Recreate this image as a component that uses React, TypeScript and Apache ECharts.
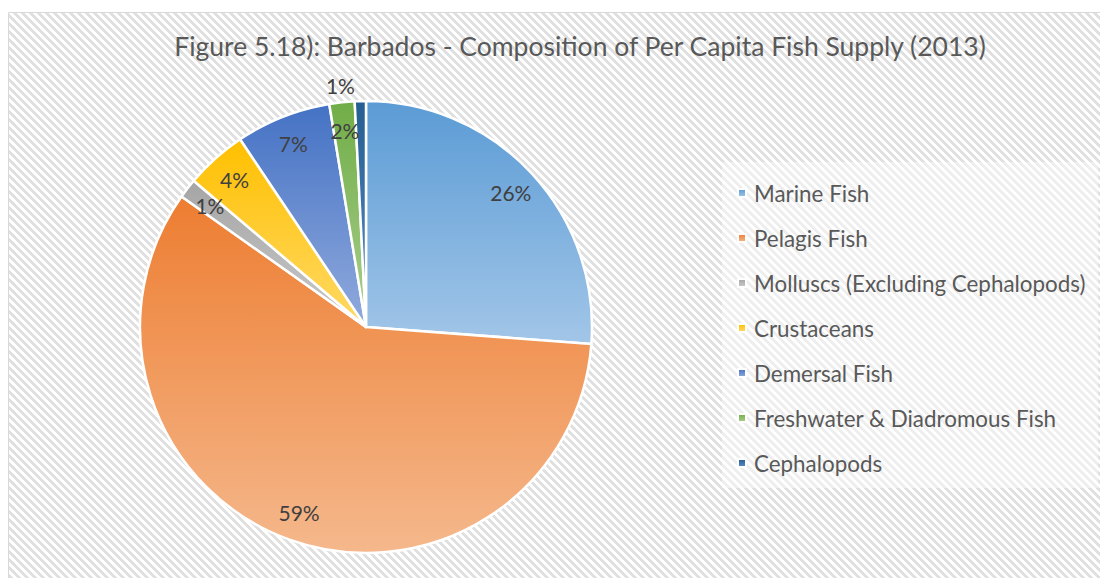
import React, { useEffect, useRef } from 'react';
import * as echarts from 'echarts';

const titleText = 'Figure 5.18): Barbados - Composition of Per Capita Fish Supply (2013)';
const categories = [
  'Marine Fish',
  'Pelagis Fish',
  'Molluscs (Excluding Cephalopods)',
  'Crustaceans',
  'Demersal Fish',
  'Freshwater & Diadromous Fish',
  'Cephalopods',
];
const shares = [26.2, 58.6, 1.4, 4.4, 6.8, 1.8, 0.8];
const topColors = ['#5B9BD5', '#ED7D31', '#A5A5A5', '#FFC000', '#4472C4', '#70AD47', '#255E91'];
const bottomColors = ['#A2C6E8', '#F5B88C', '#CACACA', '#FFD966', '#91AADD', '#AACF8E', '#5A8CC4'];
const outsideLabels = ['Cephalopods'];

const FONT = 'Lato';

function makeHatch(): string {
  const c = document.createElement('canvas');
  c.width = 8;
  c.height = 8;
  const ctx = c.getContext('2d')!;
  const img = ctx.createImageData(8, 8);
  for (let y = 0; y < 8; y++) {
    for (let x = 0; x < 8; x++) {
      const k = (((x - y) % 8) + 8) % 8;
      const v = k < 4 ? 224 : 255;
      const i = (y * 8 + x) * 4;
      img.data[i] = v;
      img.data[i + 1] = v;
      img.data[i + 2] = v;
      img.data[i + 3] = 255;
    }
  }
  ctx.putImageData(img, 0, 0);
  return c.toDataURL();
}

export default function App() {
  const ref = useRef<HTMLDivElement>(null);
  useEffect(() => {
    if (!ref.current) return;
    const chart = echarts.init(ref.current, null, { renderer: 'svg' });
    const hatch = makeHatch();
    const grad = (i: number) =>
      new echarts.graphic.LinearGradient(0, 0, 0, 1, [
        { offset: 0, color: topColors[i] },
        { offset: 1, color: bottomColors[i] },
      ]);
    chart.setOption({
      animation: false,
      backgroundColor: '#ffffff',
      graphic: [
        {
          type: 'rect',
          z: -10,
          silent: true,
          shape: { x: 8.5, y: 12.5, width: 1200, height: 700 },
          style: {
            fill: { image: hatch, repeat: 'repeat', imageWidth: 8, imageHeight: 8 },
            stroke: '#D9D9D9',
            lineWidth: 1,
          },
        },
        {
          type: 'rect',
          z: -5,
          silent: true,
          shape: { x: 722, y: 162, width: 376, height: 326 },
          style: { fill: 'rgba(255,255,255,0.45)' },
        },
        {
          type: 'text',
          z: 10,
          x: 580,
          y: 46,
          style: {
            text: titleText,
            fontFamily: FONT,
            fontSize: 26.5,
            fill: '#595959',
            align: 'center',
            verticalAlign: 'middle',
          },
        },
      ],
      legend: {
        orient: 'vertical',
        left: 737,
        top: 182,
        padding: 0,
        itemWidth: 8,
        itemHeight: 8,
        itemGap: 23,
        icon: 'rect',
        data: categories,
        selectedMode: false,
        textStyle: {
          fontFamily: FONT,
          fontSize: 22.4,
          lineHeight: 22,
          color: '#595959',
          padding: [0, 0, 0, 3],
        },
      },
      series: [
        {
          type: 'pie',
          center: [366, 327],
          radius: 226,
          startAngle: 90,
          clockwise: true,
          avoidLabelOverlap: false,
          emphasis: { disabled: true },
          itemStyle: { borderColor: '#ffffff', borderWidth: 2.5 },
          label: { show: false },
          labelLine: { show: false },
          data: categories.map((name, i) => ({
            name,
            value: shares[i],
            itemStyle: { color: grad(i) },
          })),
        },
        {
          type: 'pie',
          center: [366, 327],
          radius: [163, 226],
          startAngle: 90,
          clockwise: true,
          silent: true,
          avoidLabelOverlap: false,
          emphasis: { disabled: true },
          itemStyle: { color: 'rgba(0,0,0,0)', borderWidth: 0 },
          label: {
            show: true,
            position: 'inside',
            fontFamily: FONT,
            fontSize: 21,
            color: '#404040',
            formatter: (p: any) => Math.round(p.percent) + '%',
          },
          labelLine: { show: false },
          data: categories.map((name, i) => {
            const outside = outsideLabels.includes(name);
            return {
              name,
              value: shares[i],
              label: outside ? { position: 'outside' } : undefined,
              labelLine: outside ? { show: false, length: 16, length2: 0 } : undefined,
            };
          }),
        },
      ],
    });
    return () => chart.dispose();
  }, []);
  return (
    <div
      ref={ref}
      style={{ position: 'fixed', left: 0, top: 0, width: 1100, height: 578 }}
    />
  );
}
